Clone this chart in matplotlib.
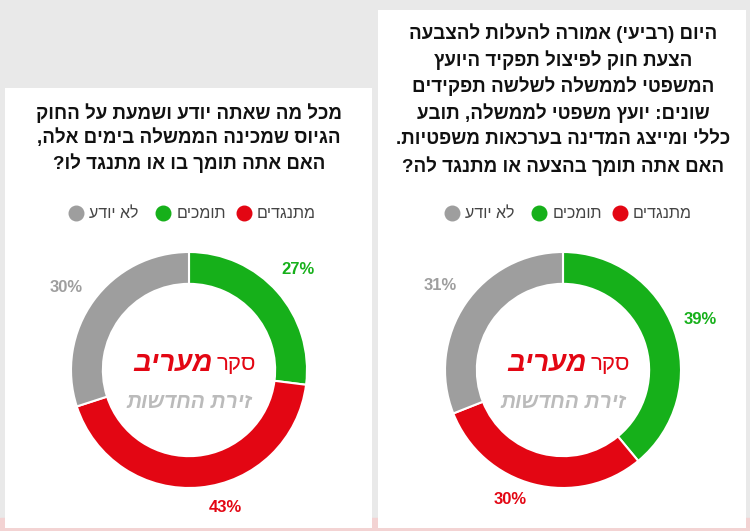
import matplotlib
matplotlib.use("Agg")
import matplotlib.pyplot as plt
from matplotlib.patches import FancyBboxPatch

plt.rcParams['font.family'] = ['Liberation Sans', 'DejaVu Sans']

def vis(s):
    return s[::-1].translate(str.maketrans("()", ")("))

categories = ["תומכים", "מתנגדים", "לא יודע"]
colors = ["#16b01a", "#e30613", "#9e9e9e"]
left_values = [27, 43, 30]
right_values = [39, 30, 31]
left_title = ["מכל מה שאתה יודע ושמעת על החוק",
              "הגיוס שמכינה הממשלה בימים אלה,",
              "האם אתה תומך בו או מתנגד לו?"]
right_title = ["היום (רביעי) אמורה להעלות להצבעה",
               "הצעת חוק לפיצול תפקיד היועץ",
               "המשפטי לממשלה לשלשה תפקידים",
               "שונים: יועץ משפטי לממשלה, תובע",
               "כללי ומייצג המדינה בערכאות משפטיות.",
               "האם אתה תומך בהצעה או מתנגד לה?"]

W, H = 750, 531
fig = plt.figure(figsize=(7.5, 5.31), dpi=100)
fig.patch.set_facecolor("#e9e9e9")
bg = fig.add_axes([0, 0, 1, 1]); bg.set_xlim(0, W); bg.set_ylim(H, 0); bg.axis("off")
bg.axhspan(518, 531, color="#f3d3d3", zorder=0)
for x0, y0, x1, y1 in [(5, 88, 372, 528), (378, 10, 746, 528)]:
    bg.add_patch(FancyBboxPatch((x0, y0), x1 - x0, y1 - y0, boxstyle="square,pad=0",
                                fc="white", ec="none", zorder=1))

def panel(cx, title, ty, dy, values, labpos, legx):
    for i, line in enumerate(title):
        bg.text(cx, ty + i * dy, vis(line), ha="center", va="center", fontsize=13.5,
                color="#111", fontweight="bold", zorder=3)
    x = legx
    for ci in [2, 0, 1]:
        bg.scatter([x], [213], s=110, color=colors[ci], zorder=3)
        bg.text(x + 13, 213, vis(categories[ci]), ha="left", va="center",
                fontsize=11.5, color="#444", zorder=3)
        x += 13 + len(categories[ci]) * 7.2 + 24
    r = 118
    ax = fig.add_axes([(cx - r) / W, 1 - (370 + r) / H, 2 * r / W, 2 * r / H])
    ax.pie(values, colors=colors, startangle=90, counterclock=False,
           wedgeprops=dict(width=0.27, edgecolor="white", linewidth=1.5))
    ax.set_xlim(-1, 1); ax.set_ylim(-1, 1)
    ax.set_aspect("equal"); ax.axis("off")
    for v, c, (lx, ly) in zip(values, colors, labpos):
        bg.text(lx, ly, f"{v}%", ha="center", va="center", fontsize=12,
                fontweight="bold", color=c, zorder=3)
    bg.text(cx + 28, 364, vis("סקר"), ha="left", va="center", fontsize=16,
            color="#e30613", zorder=3)
    bg.text(cx + 24, 364, vis("מעריב"), ha="right", va="center", fontsize=20,
            color="#e30613", fontweight="bold", style="italic", zorder=3)
    bg.text(cx, 403, vis("זירת החדשות"), ha="center", va="center", fontsize=15,
            color="#bbbbbb", fontweight="bold", style="italic", zorder=3)

panel(189, left_title, 113, 25, left_values,
      [(298, 270), (225, 508), (66, 288)], 76)
panel(563, right_title, 33, 26.7, right_values,
      [(700, 320), (510, 500), (440, 285)], 452)

fig.savefig("out.png", dpi=100, facecolor=fig.get_facecolor())
